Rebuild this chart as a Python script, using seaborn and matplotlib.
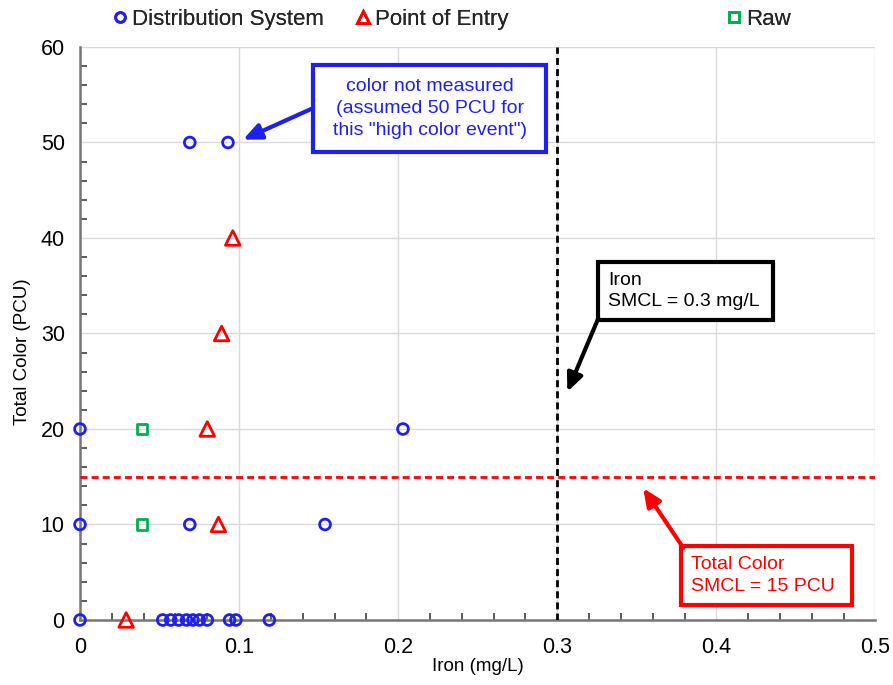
import matplotlib
matplotlib.use("Agg")
import matplotlib.pyplot as plt
from matplotlib.lines import Line2D
from matplotlib.patches import Rectangle
from matplotlib.ticker import MultipleLocator
import seaborn as sns
import pandas as pd

# Iron vs. total color samples, grouped by sampling location
dist_iron = [0.0, 0.052, 0.057, 0.062, 0.067, 0.071, 0.075, 0.080, 0.094, 0.098, 0.119,
             0.0, 0.069, 0.154, 0.0, 0.203, 0.069, 0.093]
dist_color = [0, 0, 0, 0, 0, 0, 0, 0, 0, 0, 0,
              10, 10, 10, 20, 20, 50, 50]
poe_iron = [0.029, 0.087, 0.080, 0.089, 0.096]
poe_color = [0, 10, 20, 30, 40]
raw_iron = [0.039, 0.039]
raw_color = [10, 20]

series_names = ["Distribution System", "Point of Entry", "Raw"]
iron_smcl = 0.3
color_smcl = 15

x_ticks = [0, 0.1, 0.2, 0.3, 0.4, 0.5]
x_tick_labels = ["0", "0.1", "0.2", "0.3", "0.4", "0.5"]
y_ticks = [0, 10, 20, 30, 40, 50, 60]

BLUE = "#1F1FEF"
RED = "#FF0000"
GREEN = "#00B050"

sns.set_theme(style="white")
plt.rcParams["font.family"] = ["Liberation Sans", "DejaVu Sans"]

fig = plt.figure(figsize=(8.93, 6.85), dpi=100)
ax = fig.add_axes([0.0896, 0.0949, 0.8908, 0.8365])

groups = [
    (series_names[0], dist_iron, dist_color, "o", BLUE, 60),
    (series_names[1], poe_iron, poe_color, "^", RED, 110),
    (series_names[2], raw_iron, raw_color, "s", GREEN, 55),
]

for name, xs, ys, mk, col, size in groups:
    df = pd.DataFrame({"Iron (mg/L)": xs, "Total Color (PCU)": ys})
    sns.scatterplot(data=df, x="Iron (mg/L)", y="Total Color (PCU)", marker=mk,
                    s=size, ax=ax, legend=False, zorder=5, clip_on=False)
    coll = ax.collections[-1]
    coll.set_facecolor("none")
    coll.set_edgecolor(col)
    coll.set_linewidth(2.0)

# Secondary maximum contaminant levels
ax.axvline(iron_smcl, color="black", lw=2, ls=(0, (2.5, 1.5)), zorder=3)
ax.axhline(color_smcl, color=RED, lw=2, ls=(0, (2.5, 1.5)), zorder=3)

ax.set_xlim(0, 0.5)
ax.set_ylim(0, 60)
ax.set_xticks(x_ticks)
ax.set_xticklabels(x_tick_labels)
ax.set_yticks(y_ticks)
ax.xaxis.set_minor_locator(MultipleLocator(0.02))
ax.yaxis.set_minor_locator(MultipleLocator(2))
ax.grid(True, which="major", color="#DADADA", lw=1.0, zorder=0)
ax.set_axisbelow(True)

for side in ("top", "right"):
    ax.spines[side].set_visible(False)
for side in ("left", "bottom"):
    ax.spines[side].set_color("#767676")
    ax.spines[side].set_linewidth(1.8)

ax.tick_params(which="major", direction="inout", length=10, width=1.4,
               color="#404040", labelsize=15.5, labelcolor="black")
ax.tick_params(axis="x", which="major", pad=7)
ax.tick_params(axis="y", which="major", pad=6)
ax.tick_params(which="minor", direction="in", length=5, width=1.2,
               color="#404040", bottom=True, left=True)
ax.set_xlabel("Iron (mg/L)", fontsize=13.5, color="black", labelpad=0)
ax.set_ylabel("Total Color (PCU)", fontsize=13.5, color="black", labelpad=8)
ax.yaxis.set_label_coords(-0.062, 0.468)


def callout(x0, x1, y0, y1, text, col, tail, tip, ha="center", tx=None):
    """Boxed note with an arrow pointing at a spot on the chart."""
    ax.add_patch(Rectangle((x0, y0), x1 - x0, y1 - y0, fc="white", ec=col, lw=3,
                           zorder=6, joinstyle="miter"))
    xt = (x0 + x1) / 2 if tx is None else tx
    ax.text(xt, (y0 + y1) / 2, text, ha=ha, va="center", fontsize=14, color=col,
            multialignment=ha, linespacing=1.38, zorder=7)
    ax.annotate("", xy=tip, xytext=tail, textcoords="data",
                arrowprops=dict(arrowstyle="-|>,head_length=0.9,head_width=0.4",
                                color=col, lw=3, shrinkA=0, shrinkB=0),
                zorder=6)


callout(0.1465, 0.2931, 49.0, 58.12,
        'color not measured\n(assumed 50 PCU for\nthis "high color event")',
        BLUE, tail=(0.1465, 53.6), tip=(0.1025, 50.3))
callout(0.3258, 0.4358, 31.41, 37.49, "Iron\nSMCL = 0.3 mg/L",
        "black", tail=(0.3258, 31.6), tip=(0.3063, 23.9), ha="left", tx=0.3318)
callout(0.3780, 0.4855, 1.57, 7.75, "Total Color\nSMCL = 15 PCU",
        RED, tail=(0.3792, 7.55), tip=(0.354, 13.8), ha="left", tx=0.3840)

# Legend entries along the top
legend_pos = [0.127, 0.399, 0.814]
for (name, xs, ys, mk, col, size), xpos in zip(groups, legend_pos):
    h = Line2D([], [], marker=mk, ls="none", mfc="none", mec=col, mew=2.0,
               ms=7 if mk != "^" else 8.5)
    leg = fig.legend(handles=[h], labels=[name], loc="center left",
                     bbox_to_anchor=(xpos, 0.972), frameon=False, fontsize=16,
                     handlelength=0.6, handletextpad=0.25, borderpad=0, borderaxespad=0)
    fig.add_artist(leg)

fig.savefig("out.png", dpi=100)
